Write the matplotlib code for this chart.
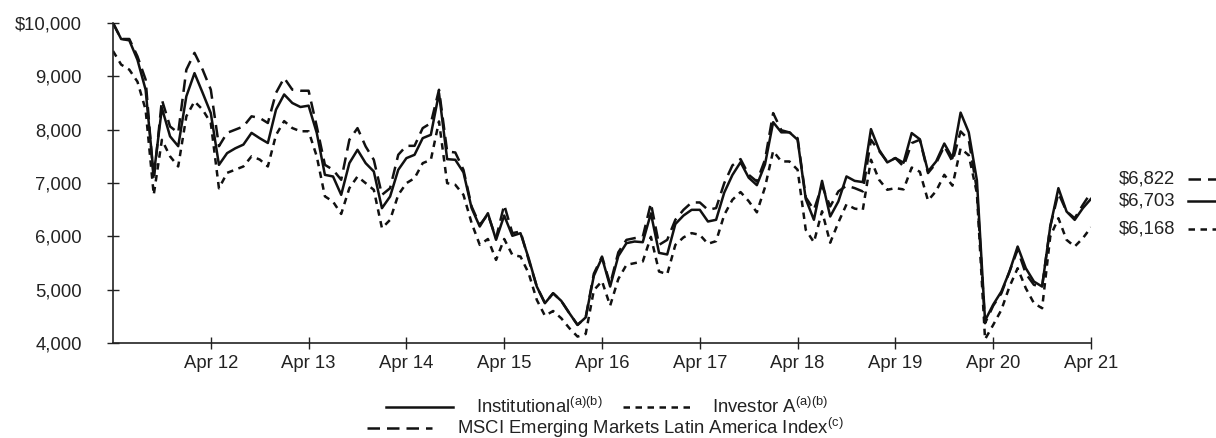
import matplotlib
matplotlib.use("Agg")
import matplotlib.pyplot as plt
from matplotlib.lines import Line2D
import numpy as np

plt.rcParams['font.family'] = ['Liberation Sans', 'DejaVu Sans']
plt.rcParams['mathtext.fontset'] = 'custom'
plt.rcParams['mathtext.rm'] = 'Liberation Sans'
plt.rcParams['mathtext.it'] = 'Liberation Sans'

# Monthly values, Apr 2011 .. Apr 2021 (121 points)
institutional = [
    10000, 9700, 9675, 9310, 8750, 7150, 8406, 7875, 7690, 8625, 9060, 8690,
    8310, 7340, 7560, 7650, 7720, 7940, 7840, 7750, 8375, 8660, 8500, 8425,
    8450, 7940, 7153, 7122, 6778, 7372, 7622, 7372, 7216, 6528, 6747, 7247,
    7466, 7529, 7841, 7904, 8686, 7447, 7435, 7200, 6530, 6184, 6434, 5934,
    6390, 6010, 6059, 5590, 5058, 4746, 4933, 4790, 4558, 4339, 4480, 5260,
    5600, 5059, 5630, 5872, 5903, 5890, 6430, 5690, 5660, 6230, 6390, 6497,
    6497, 6278, 6310, 6820, 7150, 7390, 7100, 6960, 7350, 8140, 7950, 7950,
    7811, 6700, 6310, 7040, 6372, 6654, 7123, 7040, 7017, 8010, 7623, 7386,
    7467, 7380, 7936, 7820, 7217, 7404, 7740, 7467, 8320, 7950, 7050, 4420,
    4720, 4964, 5340, 5809, 5402, 5152, 5058, 6184, 6903, 6466, 6309, 6528,
    6703]

investor_a = [
    9475, 9220, 9125, 8900, 8375, 6780, 7810, 7500, 7310, 8250, 8530, 8375,
    8125, 6900, 7190, 7250, 7310, 7500, 7440, 7310, 7900, 8160, 8030, 7970,
    7970, 7500, 6750, 6650, 6420, 6903, 7122, 6997, 6872, 6153, 6309, 6778,
    6997, 7091, 7372, 7435, 8154, 6997, 6966, 6778, 6250, 5840, 5950, 5558,
    5950, 5652, 5621, 5308, 4808, 4510, 4600, 4464, 4277, 4120, 4170, 4990,
    5160, 4700, 5200, 5465, 5497, 5528, 5990, 5340, 5290, 5840, 5980, 6060,
    6028, 5860, 5910, 6403, 6685, 6830, 6660, 6450, 6920, 7600, 7404, 7404,
    7248, 6122, 5890, 6470, 5880, 6260, 6600, 6520, 6497, 7436, 7060, 6873,
    6904, 6880, 7290, 7210, 6670, 6850, 7154, 6950, 7650, 7520, 6810, 4070,
    4340, 4620, 5058, 5402, 5027, 4746, 4652, 5996, 6340, 5934, 5809, 5965,
    6168]

msci = [
    10000, 9700, 9700, 9375, 8940, 7050, 8560, 8060, 7940, 9125, 9440, 9125,
    8750, 7690, 7940, 8000, 8060, 8250, 8220, 8125, 8690, 8970, 8750, 8730,
    8730, 8060, 7341, 7247, 7060, 7810, 8029, 7685, 7435, 6778, 6903, 7529,
    7697, 7697, 8029, 8123, 8748, 7591, 7572, 7247, 6560, 6215, 6410, 5965,
    6590, 6060, 6090, 5560, 5058, 4746, 4933, 4790, 4558, 4339, 4480, 5300,
    5621, 5100, 5700, 5934, 5966, 5990, 6622, 5840, 5934, 6310, 6497, 6635,
    6635, 6497, 6529, 6998, 7330, 7448, 7154, 7029, 7435, 8311, 7990, 7948,
    7840, 6730, 6497, 6950, 6560, 6842, 6950, 6904, 6842, 7811, 7600, 7400,
    7467, 7311, 7748, 7811, 7186, 7373, 7690, 7404, 7967, 7811, 6873, 4371,
    4700, 4930, 5340, 5750, 5300, 5090, 5058, 6184, 6810, 6466, 6340, 6590,
    6822]

x_tick_labels = ["Apr 12", "Apr 13", "Apr 14", "Apr 15", "Apr 16",
                 "Apr 17", "Apr 18", "Apr 19", "Apr 20", "Apr 21"]
y_ticks = [4000, 5000, 6000, 7000, 8000, 9000, 10000]
y_tick_labels = ["4,000", "5,000", "6,000", "7,000", "8,000", "9,000", "$10,000"]
end_labels = ["$6,822", "$6,703", "$6,168"]
legend_labels = [r"Institutional$^{\mathrm{(a)(b)}}$",
                 r"Investor A$^{\mathrm{(a)(b)}}$",
                 r"MSCI Emerging Markets Latin America Index$^{\mathrm{(c)}}$"]

W, H = 1216, 438
fig = plt.figure(figsize=(W / 100, H / 100), dpi=100)
L, R, T, B = 113, 1091, 23, 343
ax = fig.add_axes([L / W, 1 - B / H, (R - L) / W, (B - T) / H])

lw = 1.8
solid_style = '-'
dot_style = (0, (2.6, 2.2))
dash_style = (0, (5.0, 2.8))
col = '#111111'

months = np.arange(len(institutional))
ax.plot(months, msci, color=col, lw=lw, linestyle=dash_style)
ax.plot(months, investor_a, color=col, lw=lw, linestyle=dot_style)
ax.plot(months, institutional, color=col, lw=lw, linestyle=solid_style)

ax.set_xlim(0, 120)
ax.set_ylim(4000, 10000)
ax.set_xticks(np.arange(12, 121, 12))
ax.set_xticklabels(x_tick_labels)
ax.set_yticks(y_ticks)
ax.set_yticklabels(y_tick_labels)
for s in ['top', 'right']:
    ax.spines[s].set_visible(False)
for s in ['left', 'bottom']:
    ax.spines[s].set_linewidth(1.2)
    ax.spines[s].set_color('#222222')
ax.tick_params(axis='both', direction='inout', length=9, width=1.0,
               color='#222222', labelsize=13.3, labelcolor='#222222')
ax.tick_params(axis='y', pad=18)
ax.tick_params(axis='x', pad=4)

def fx(px):
    return px / W

def fy(py):
    return 1 - py / H

fs = 13.3
# End value labels
end_rows = [(179, dash_style), (201, solid_style), (229, dot_style)]
for (py, ls), lab in zip(end_rows, end_labels):
    fig.text(fx(1119), fy(py), lab, fontsize=fs, color='#222222',
             va='center', ha='left')
    fig.add_artist(Line2D([fx(1188), fx(1216)], [fy(py), fy(py)],
                          color=col, lw=lw, linestyle=ls,
                          transform=fig.transFigure))

# Legend (manual)
leg_items = [
    (386, 453, 476, 407, solid_style, legend_labels[0]),
    (623, 694, 712, 407, dot_style, legend_labels[1]),
    (367, 432, 457, 428, dash_style, legend_labels[2]),
]
for x0, x1, tx, py, ls, lab in leg_items:
    fig.add_artist(Line2D([fx(x0), fx(x1)], [fy(py), fy(py)],
                          color=col, lw=lw, linestyle=ls,
                          transform=fig.transFigure))
    fig.text(fx(tx), fy(py), lab, fontsize=fs, color='#222222',
             va='center', ha='left')

fig.savefig("out.png", dpi=100)
